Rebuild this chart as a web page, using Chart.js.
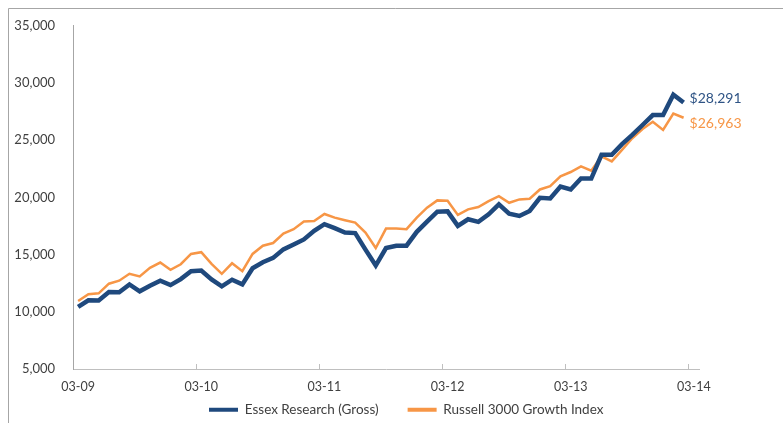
<!DOCTYPE html>
<html>
<head>
<meta charset="utf-8">
<script src="https://cdn.jsdelivr.net/npm/chart.js@4.4.1/dist/chart.umd.min.js"></script>
<style>
  html, body { margin: 0; padding: 0; background: #fff; }
</style>
</head>
<body>
<canvas id="growth" width="783" height="423"></canvas>
<script>
// x categories: one slot per month, 03-09 .. 03-14 (the last slot is empty)
let months = [];
for (let i = 0; i <= 60; i++) {
    let m = (2 + i) % 12 + 1;
    let y = 9 + Math.floor((2 + i) / 12);
    months.push(String(m).padStart(2, '0') + '-' + String(y).padStart(2, '0'));
}

// growth of $10,000
const essex = [
    10427, 11008, 10982, 11728, 11702, 12395, 11789, 12283, 12716, 12335, 12855, 13549,
    13609, 12829, 12222, 12803, 12395, 13809, 14329, 14710, 15456, 15890, 16323, 17077,
    17658, 17311, 16930, 16878, 15430, 14043, 15577, 15777, 15777, 16991, 17885, 18752,
    18780, 17511, 18089, 17858, 18525, 19392, 18578, 18378, 18811, 19965, 19912, 20950,
    20693, 21647, 21647, 23727, 23727, 24651, 25460, 26328, 27195, 27195, 28981, 28291
];
const russell = [
    10948, 11528, 11615, 12456, 12716, 13323, 13089, 13843, 14303, 13670, 14156, 15057,
    15210, 14190, 13323, 14242, 13549, 15057, 15777, 16011, 16843, 17225, 17885, 17944,
    18550, 18231, 18005, 17797, 16930, 15577, 17277, 17277, 17225, 18231, 19098, 19739,
    19700, 18465, 18958, 19158, 19678, 20111, 19531, 19826, 19878, 20693, 20979, 21846,
    22218, 22712, 22336, 23583, 23146, 24160, 25171, 25981, 26614, 25894, 27334, 26963
];

const seriesNames = ['Essex Research (Gross)', 'Russell 3000 Growth Index'];

Chart.defaults.font.family = 'Lato, "Open Sans", sans-serif';
Chart.defaults.color = '#404040';

// frame, end-of-line value labels, legend placement
const decorations = {
    id: 'decorations',
    afterLayout(chart, args, opts) {
        // legend sits a bit right of centre in the original, pin it there
        // (box runs to the bottom edge so the legend's clip keeps the text)
        let lg = chart.legend;
        lg.left = opts.legendAt[0];
        lg.right = chart.width;
        lg.top = opts.legendAt[1];
        lg.bottom = chart.height;
        lg.width = lg.right - lg.left;
        lg.height = lg.bottom - lg.top;
    },
    beforeDraw(chart) {
        let ctx = chart.ctx;
        ctx.save();
        ctx.strokeStyle = '#a6a6a6';
        ctx.lineWidth = 1;
        ctx.beginPath();
        ctx.moveTo(8.5, 423);
        ctx.lineTo(8.5, 8.5);
        ctx.lineTo(783, 8.5);
        ctx.stroke();
        ctx.restore();
    },
    afterDatasetsDraw(chart, args, opts) {
        let ctx = chart.ctx;
        chart.data.datasets.forEach((ds, i) => {
            let meta = chart.getDatasetMeta(i);
            let pt = meta.data[meta.data.length - 1];
            let v = ds.data[ds.data.length - 1];
            ctx.save();
            ctx.font = '14px Lato';
            ctx.fillStyle = opts.colors[i];
            ctx.textBaseline = 'middle';
            ctx.fillText('$' + v.toLocaleString('en-US'), pt.x + 6, pt.y + opts.dy[i]);
            ctx.restore();
        });
    }
};

new Chart(document.getElementById('growth'), {
    type: 'line',
    data: {
        labels: months,
        datasets: [
            {
                label: seriesNames[0],
                data: essex,
                borderColor: '#1f497d',
                backgroundColor: '#1f497d',
                borderWidth: 4.5,
                pointRadius: 0,
                tension: 0
            },
            {
                label: seriesNames[1],
                data: russell,
                borderColor: '#f79646',
                backgroundColor: '#f79646',
                borderWidth: 2.5,
                pointRadius: 0,
                tension: 0
            }
        ]
    },
    options: {
        responsive: false,
        animation: false,
        devicePixelRatio: 1,
        layout: { padding: { left: 0, right: 84, top: 23, bottom: 0 } },
        scales: {
            x: {
                offset: true,
                grid: {
                    offset: true,
                    drawOnChartArea: false,
                    drawTicks: true,
                    tickLength: -5,
                    tickColor: (c) => c.index % 12 === 0 ? '#bfbfbf' : 'transparent'
                },
                border: { color: '#bfbfbf' },
                ticks: {
                    autoSkip: false,
                    maxRotation: 0,
                    padding: 15,
                    font: { size: 12.5 },
                    callback: function (val, idx) {
                        return idx % 12 === 0 ? this.getLabelForValue(val) : '';
                    }
                },
                afterFit(scale) { scale.height = 34; }
            },
            y: {
                min: 5000,
                max: 35000,
                grid: { display: false, drawTicks: false },
                border: { color: '#a6a6a6' },
                ticks: {
                    stepSize: 5000,
                    padding: 18,
                    font: { size: 13 },
                    callback: (v) => v.toLocaleString('en-US')
                },
                afterFit(scale) { scale.width = 73; }
            }
        },
        plugins: {
            tooltip: { enabled: false },
            legend: {
                position: 'bottom',
                align: 'start',
                maxHeight: 20,
                labels: {
                    boxWidth: 29,
                    boxHeight: 4,
                    padding: 29,
                    font: { size: 13.5 },
                    generateLabels(chart) {
                        return Chart.defaults.plugins.legend.labels.generateLabels(chart)
                            .map(l => Object.assign(l, { lineWidth: 0, strokeStyle: l.fillStyle }));
                    }
                }
            },
            decorations: {
                colors: ['#2f5485', '#f79646'],
                dy: [-4, 6],
                legendAt: [180, 374]
            }
        }
    },
    plugins: [decorations]
});
</script>
</body>
</html>
